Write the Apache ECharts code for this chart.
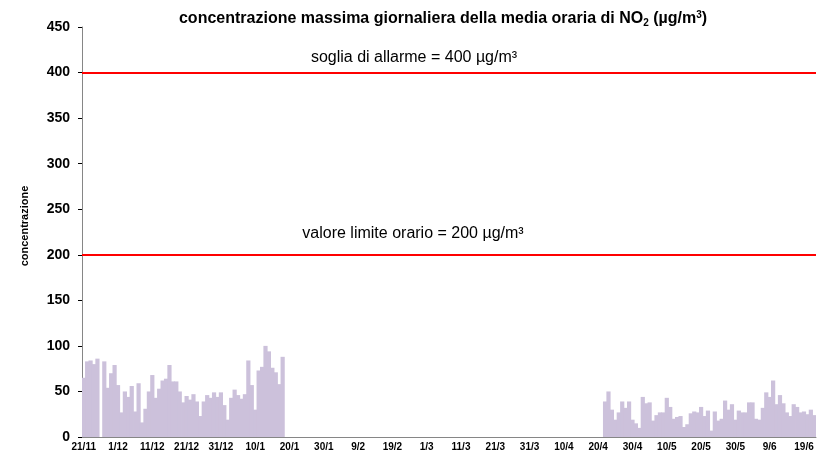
<!DOCTYPE html>
<html>
<head>
<meta charset="utf-8">
<script src="https://cdn.jsdelivr.net/npm/echarts@6/dist/echarts.min.js"></script>
<style>
  html, body { margin: 0; padding: 0; background: #fff; }
  #chart { width: 825px; height: 458px; }
</style>
</head>
<body>
<div id="chart"></div>
<script>
// giorni dal 21/11 al 22/6
const firstDay = new Date(2006, 10, 21)
const dayCount = 214
const days = []
for (let i = 0; i < dayCount; i++) {
  const d = new Date(firstDay.getFullYear(), firstDay.getMonth(), firstDay.getDate() + i)
  days.push(d.getDate() + '/' + (d.getMonth() + 1))
}

// primo periodo: dal 21/11 (26/11 mancante)
const winterStart = '21/11'
const winterValues = [
  65, 83, 84, 80, 86, null, 83, 54, 70, 79,
  57, 27, 50, 44, 56, 28, 59, 16, 31, 50,
  68, 43, 53, 62, 64, 79, 61, 61, 50, 38,
  45, 41, 47, 39, 23, 39, 46, 43, 49, 44,
  49, 35, 19, 43, 52, 46, 42, 47, 84, 57,
  30, 73, 77, 100, 94, 76, 71, 58, 88
]

// secondo periodo: dal 22/4
const springStart = '22/4'
const springValues = [
  39, 50, 30, 19, 27, 39, 32, 39, 19, 15,
  10, 44, 37, 38, 18, 24, 27, 27, 43, 33,
  20, 22, 23, 11, 14, 26, 28, 27, 33, 23,
  29, 7, 28, 18, 20, 40, 30, 36, 19, 29,
  27, 27, 38, 38, 20, 19, 32, 49, 44, 62,
  36, 46, 37, 27, 23, 36, 33, 27, 28, 25,
  30, 24
]

const yTicks = [0, 50, 100, 150, 200, 250, 300, 350, 400, 450]
const alarmThreshold = 400
const hourlyLimit = 200

// serie completa con i giorni senza dati a null
const values = days.map(() => null)
const placeSegment = (start, list) => {
  const s = days.indexOf(start)
  list.forEach((v, i) => { values[s + i] = v })
}
placeSegment(winterStart, winterValues)
placeSegment(springStart, springValues)

const chart = echarts.init(document.getElementById('chart'))
const font = 'Liberation Sans, Arial, sans-serif'
const barColor = '#ccc1db'

chart.setOption({
  animation: false,
  title: {
    text: '{a|concentrazione massima giornaliera della media oraria di NO}{sub|2}{a| (µg/m}{sup|3}{a|)}',
    left: 438,
    top: 5,
    textAlign: 'center',
    textStyle: {
      rich: {
        a: { fontFamily: font, fontSize: 16, fontWeight: 'bold', color: '#000', lineHeight: 18, verticalAlign: 'middle' },
        sub: { fontFamily: font, fontSize: 10, fontWeight: 'bold', color: '#000', lineHeight: 10, verticalAlign: 'bottom' },
        sup: { fontFamily: font, fontSize: 10, fontWeight: 'bold', color: '#000', lineHeight: 10, verticalAlign: 'top' }
      }
    }
  },
  grid: { left: 82, right: 9, top: 27, bottom: 21 },
  xAxis: {
    type: 'category',
    data: days,
    boundaryGap: true,
    axisLine: { lineStyle: { color: '#868686', width: 1 } },
    axisTick: {
      interval: (i) => i % 10 === 0,
      length: 4,
      lineStyle: { color: '#000' }
    },
    axisLabel: {
      interval: (i) => i % 10 === 0,
      margin: 5,
      fontFamily: font,
      fontSize: 10,
      fontWeight: 'bold',
      color: '#000'
    },
    splitLine: { show: false }
  },
  yAxis: {
    type: 'value',
    min: yTicks[0],
    max: yTicks[yTicks.length - 1],
    interval: 50,
    name: 'concentrazione',
    nameLocation: 'middle',
    nameGap: 52,
    nameTextStyle: { fontFamily: font, fontSize: 11, fontWeight: 'bold', color: '#000', padding: [0, 0, 0, 12] },
    axisLine: { show: true, lineStyle: { color: '#868686', width: 1 } },
    axisTick: { show: true, length: 4, lineStyle: { color: '#000' } },
    axisLabel: {
      margin: 12,
      fontFamily: font,
      fontSize: 14,
      fontWeight: 'bold',
      color: '#000'
    },
    splitLine: { show: false }
  },
  series: [
    {
      type: 'bar',
      data: values,
      barWidth: 4.2,
      itemStyle: { color: barColor },
      markLine: {
        silent: true,
        symbol: 'none',
        lineStyle: { color: '#ff0000', width: 2, type: 'solid' },
        data: [
          {
            yAxis: alarmThreshold,
            label: {
              formatter: 'soglia di allarme = ' + alarmThreshold + ' µg/m³',
              position: 'insideMiddleTop',
              distance: 7,
              padding: [0, 70, 0, 0],
              fontFamily: font,
              fontSize: 16,
              color: '#000'
            }
          },
          {
            yAxis: hourlyLimit,
            label: {
              formatter: 'valore limite orario = ' + hourlyLimit + ' µg/m³',
              position: 'insideMiddleTop',
              distance: 13,
              padding: [0, 72, 0, 0],
              fontFamily: font,
              fontSize: 16,
              color: '#000'
            }
          }
        ]
      }
    }
  ]
})
</script>
</body>
</html>
